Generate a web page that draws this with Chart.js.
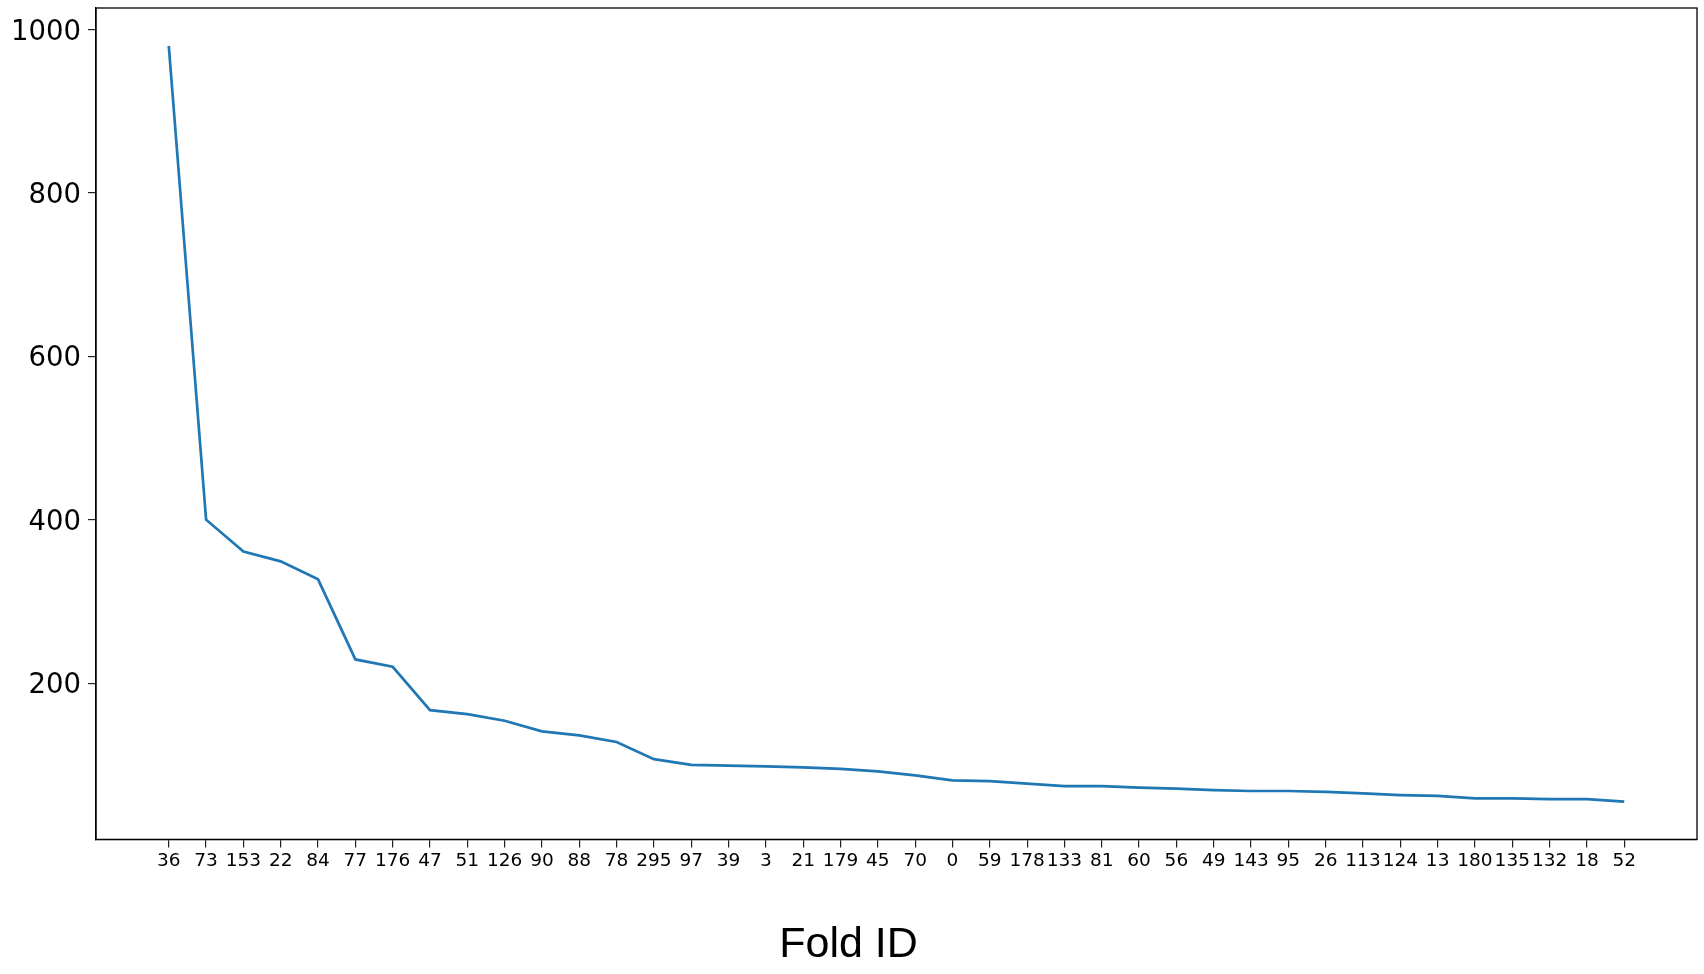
<!DOCTYPE html>
<html>
<head>
<meta charset="utf-8">
<script src="https://cdn.jsdelivr.net/npm/chart.js@4/dist/chart.umd.min.js"></script>
<style>
  html, body { margin: 0; padding: 0; background: #fff; }
  #wrap { width: 1704px; height: 974px; }
</style>
</head>
<body>
<div id="wrap"><canvas id="myChart" width="1704" height="974"></canvas></div>
<script>
// fold ids along the x axis, in plotted order
var foldIds = ['36', '73', '153', '22', '84', '77', '176', '47', '51', '126', '90', '88', '78', '295', '97', '39', '3', '21', '179', '45',
  '70', '0', '59', '178', '133', '81', '60', '56', '49', '143', '95', '26', '113', '124', '13', '180', '135', '132', '18', '52'];

// value for each fold
var foldValues = [980, 400, 361, 349, 327, 229, 220, 167, 162, 154, 141, 136, 128, 107, 100, 99, 98, 97, 95, 92,
  87, 81, 80, 77, 74, 74, 72, 71, 69, 68, 68, 67, 65, 63, 62, 59, 59, 58, 58, 55];

var yTicks = [200, 400, 600, 800, 1000];

// matplotlib style 5% margins
var xPad = (foldIds.length - 1) * 0.05;
var yMinVal = Math.min.apply(null, foldValues);
var yMaxVal = Math.max.apply(null, foldValues);
var yPad = (yMaxVal - yMinVal) * 0.05;

var points = foldValues.map(function (v, i) { return { x: i, y: v }; });

// full box around the plot like matplotlib
const frame = {
  id: 'frame',
  afterDraw(chart) {
    const a = chart.chartArea, ctx = chart.ctx;
    ctx.save();
    ctx.strokeStyle = '#000';
    ctx.lineWidth = 1.3;
    ctx.strokeRect(a.left, a.top, a.right - a.left, a.bottom - a.top);
    ctx.restore();
  }
};

let chartOne = document.getElementById('myChart');

const myChart = new Chart(chartOne, {
  type: 'line',
  data: {
    datasets: [{
      data: points,
      borderColor: '#1f77b4',
      borderWidth: 2.7,
      pointRadius: 0,
      fill: false,
      tension: 0
    }]
  },
  options: {
    responsive: false,
    animation: false,
    layout: { padding: { top: 8, right: 7, left: 0, bottom: 0 } },
    plugins: {
      legend: { display: false },
      tooltip: { enabled: false },
      title: {
        display: true,
        position: 'bottom',
        text: 'Fold ID',
        color: '#000',
        font: { family: 'Liberation Sans', size: 43, weight: 'normal', lineHeight: 1.2 },
        padding: { top: 0, bottom: 3 }
      }
    },
    scales: {
      x: {
        type: 'linear',
        min: -xPad,
        max: foldIds.length - 1 + xPad,
        afterBuildTicks: function (scale) {
          scale.ticks = foldIds.map(function (id, i) { return { value: i }; });
        },
        afterFit: function (scale) {
          scale.height = 80;
          scale.paddingLeft = 0;
          scale.paddingRight = 0;
        },
        grid: { drawOnChartArea: false, drawTicks: true, tickLength: 8, color: '#222', lineWidth: 1.2 },
        border: { display: true, color: '#000', width: 1.3 },
        ticks: {
          autoSkip: false,
          maxRotation: 0,
          minRotation: 0,
          padding: 3,
          color: '#000',
          font: { family: 'DejaVu Sans', size: 18.5 },
          callback: function (value) { return foldIds[value]; }
        }
      },
      y: {
        type: 'linear',
        min: yMinVal - yPad,
        max: yMaxVal + yPad,
        afterBuildTicks: function (scale) {
          scale.ticks = yTicks.map(function (v) { return { value: v }; });
        },
        afterFit: function (scale) {
          scale.width = 96;
          scale.paddingTop = 0;
          scale.paddingBottom = 0;
        },
        grid: { drawOnChartArea: false, drawTicks: true, tickLength: 8, color: '#222', lineWidth: 1.2 },
        border: { display: true, color: '#000', width: 1.3 },
        ticks: {
          padding: 7,
          labelOffset: 3,
          color: '#000',
          font: { family: 'DejaVu Sans', size: 27.5 },
          callback: function (value) { return String(value); }
        }
      }
    }
  },
  plugins: [frame]
});
</script>
</body>
</html>
